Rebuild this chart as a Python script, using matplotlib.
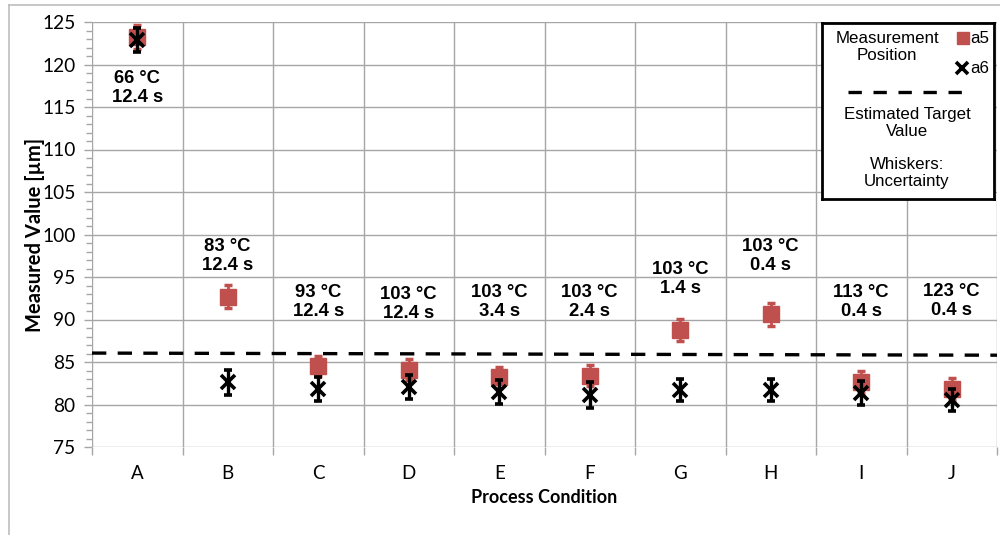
import matplotlib
matplotlib.use("Agg")
import matplotlib.pyplot as plt
from matplotlib.lines import Line2D
from matplotlib.ticker import MultipleLocator, FixedLocator
import numpy as np

# Process conditions and measured values
conditions = ["A", "B", "C", "D", "E", "F", "G", "H", "I", "J"]
cond_labels = ["66 °C\n12.4 s", "83 °C\n12.4 s", "93 °C\n12.4 s", "103 °C\n12.4 s",
               "103 °C\n3.4 s", "103 °C\n2.4 s", "103 °C\n1.4 s", "103 °C\n0.4 s",
               "113 °C\n0.4 s", "123 °C\n0.4 s"]
label_y = [117.2, 97.5, 92.1, 91.8, 92.1, 92.1, 94.8, 97.5, 92.1, 92.2]

a5 = [123.2, 92.7, 84.5, 84.1, 83.2, 83.4, 88.8, 90.6, 82.6, 81.8]
a5_err = [1.4, 1.35, 1.2, 1.2, 1.2, 1.2, 1.3, 1.4, 1.3, 1.3]
a6 = [122.9, 82.6, 81.8, 82.1, 81.5, 81.1, 81.7, 81.7, 81.4, 80.5]
a6_err = [1.4, 1.5, 1.4, 1.4, 1.4, 1.5, 1.3, 1.3, 1.4, 1.3]

# Estimated target value (slight trend across the conditions)
target = [86.05, 85.8]

red = "#c0504d"
grid_c = "#a6a6a6"

fig = plt.figure(figsize=(10, 5.35), dpi=100)
W, H = 1000, 535

ax = fig.add_axes([92 / W, 1 - 447 / H, (997 - 92) / W, (447 - 22) / H])
x = np.arange(len(conditions))

ax.set_xlim(-0.5, len(conditions) - 0.5)
ax.set_ylim(75, 125)

# Grid and ticks
ax.yaxis.set_major_locator(MultipleLocator(5))
ax.yaxis.set_minor_locator(MultipleLocator(1))
ax.set_xticks(x)
ax.set_xticklabels(conditions)
ax.xaxis.set_minor_locator(FixedLocator(np.arange(-0.5, len(conditions), 1.0)))
ax.grid(True, which="major", axis="y", color=grid_c, lw=1.0)
ax.grid(True, which="minor", axis="x", color=grid_c, lw=1.0)
ax.set_axisbelow(True)
for s in ax.spines.values():
    s.set_visible(False)
ax.tick_params(axis="y", which="major", direction="out", length=6, width=1,
               color=grid_c, pad=6, labelsize=13.8)
ax.tick_params(axis="y", which="minor", direction="out", length=4, width=1,
               color=grid_c)
ax.tick_params(axis="x", which="major", length=0, pad=13, labelsize=13.5)
ax.tick_params(axis="x", which="minor", direction="out", length=6, width=1,
               color=grid_c)
for lab in ax.get_xticklabels() + ax.get_yticklabels():
    lab.set_fontfamily("Lato")

ax.set_xlabel("Process Condition", fontfamily="Lato", fontweight="bold",
              fontsize=13, labelpad=5)
ax.set_ylabel("Measured Value [µm]", fontfamily="Lato", fontweight="bold",
              fontsize=14.5)
ax.yaxis.set_label_coords(-0.052, 0.5)

# Target line
ax.plot([-0.5, len(conditions) - 0.5], target, color="black", lw=2.4,
        dashes=(4.3, 3.4), zorder=2, clip_on=False)

# Measurement points
ax.errorbar(x, a5, yerr=a5_err, fmt="s", color=red, ecolor=red, ms=11.5,
            mec=red, elinewidth=2, capsize=3, capthick=2.5, zorder=3)
ax.errorbar(x, a6, yerr=a6_err, fmt="x", color="black", ecolor="black", ms=10,
            mew=2.6, elinewidth=2.4, capsize=3, capthick=2.6, zorder=4)

# Condition labels
for xi, yi, t in zip(x, label_y, cond_labels):
    ax.text(xi, yi, t, ha="center", va="center", fontsize=13.3,
            fontweight="bold", fontfamily="Liberation Sans", linespacing=1.15)

# Legend box
lg = fig.add_axes([822 / W, 1 - 199 / H, (994 - 822) / W, (199 - 23) / H])
lg.set_xlim(822, 994)
lg.set_ylim(199, 23)
lg.set_xticks([])
lg.set_yticks([])
for s in lg.spines.values():
    s.set_linewidth(2)
    s.set_color("black")
lg.set_facecolor("white")
lf = dict(fontfamily="Liberation Sans", fontsize=12.2)
lg.text(887, 47, "Measurement\nPosition", ha="center", va="center",
        linespacing=1.1, **lf)
lg.plot([963], [38], "s", color=red, ms=9)
lg.text(970, 38, "a5", ha="left", va="center", **lf)
lg.plot([962], [68], "x", color="black", ms=8, mew=2.6)
lg.text(970, 68, "a6", ha="left", va="center", **lf)
lg.plot([848, 963], [92, 92], color="black", lw=2.4, dashes=(4.0, 3.5))
lg.text(907, 123, "Estimated Target\nValue", ha="center", va="center",
        linespacing=1.1, **lf)
lg.text(907, 173, "Whiskers:\nUncertainty", ha="center", va="center",
        linespacing=1.1, **lf)

# Outer frame
frame_c = "#bdbdbd"
fig.add_artist(Line2D([9 / W, 9 / W], [0, 1 - 5 / H], color=frame_c, lw=1.2,
                      transform=fig.transFigure))
fig.add_artist(Line2D([9 / W, 1], [1 - 5 / H, 1 - 5 / H], color=frame_c,
                      lw=1.2, transform=fig.transFigure))

fig.savefig("out.png", dpi=100)
